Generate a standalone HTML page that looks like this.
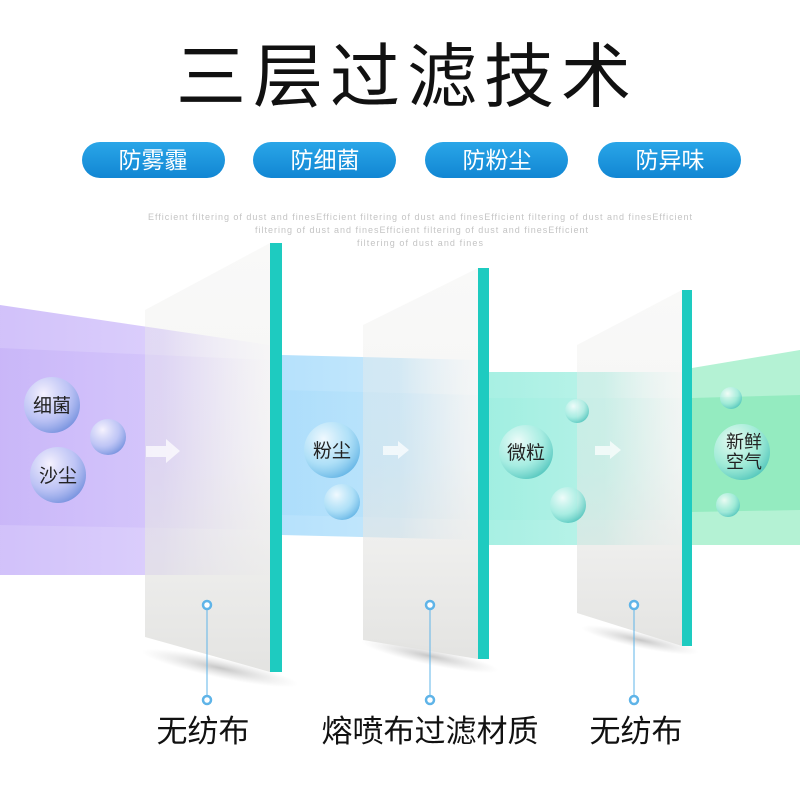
<!DOCTYPE html>
<html><head><meta charset="utf-8"><style>
html,body{margin:0;padding:0;background:#fff;}
svg{display:block}
text{font-family:"Liberation Sans","Noto Sans CJK SC",sans-serif;}
</style></head><body>
<svg width="800" height="800" viewBox="0 0 800 800" xmlns="http://www.w3.org/2000/svg">
<defs>
<linearGradient id="pill" x1="0" y1="0" x2="0" y2="1"><stop offset="0" stop-color="#2aa6e8"/><stop offset="1" stop-color="#1186d3"/></linearGradient>
<linearGradient id="pur" x1="0" x2="1"><stop offset="0" stop-color="#c6b2f8"/><stop offset="0.6" stop-color="#d2c2fb"/><stop offset="1" stop-color="#f4f0fd" stop-opacity="0.2"/></linearGradient>
<linearGradient id="blu" x1="0" x2="1"><stop offset="0" stop-color="#a9dcfb"/><stop offset="0.6" stop-color="#b9e3fb"/><stop offset="1" stop-color="#e6f4fd" stop-opacity="0.2"/></linearGradient>
<linearGradient id="tea" x1="0" x2="1"><stop offset="0" stop-color="#9eeee0"/><stop offset="0.6" stop-color="#b2f1e6"/><stop offset="1" stop-color="#e4f9f5" stop-opacity="0.2"/></linearGradient>
<radialGradient id="bub" cx="0.35" cy="0.3" r="0.75"><stop offset="0" stop-color="#ffffff" stop-opacity="0.8"/><stop offset="0.6" stop-color="#b8c8f4" stop-opacity="0.7"/><stop offset="1" stop-color="#6f8fdc" stop-opacity="0.9"/></radialGradient>
<radialGradient id="bubb" cx="0.35" cy="0.3" r="0.75"><stop offset="0" stop-color="#ffffff" stop-opacity="0.8"/><stop offset="0.6" stop-color="#aee0f6" stop-opacity="0.7"/><stop offset="1" stop-color="#5fb2e4" stop-opacity="0.9"/></radialGradient>
<radialGradient id="bubt" cx="0.35" cy="0.3" r="0.75"><stop offset="0" stop-color="#ffffff" stop-opacity="0.8"/><stop offset="0.6" stop-color="#a8ece2" stop-opacity="0.7"/><stop offset="1" stop-color="#4fc4bc" stop-opacity="0.9"/></radialGradient>
<linearGradient id="panel" x1="0" y1="0" x2="0" y2="1"><stop offset="0" stop-color="#eeeeec" stop-opacity="0.35"/><stop offset="0.5" stop-color="#e8e8e6" stop-opacity="0.45"/><stop offset="1" stop-color="#e2e2e0" stop-opacity="0.95"/></linearGradient>
<radialGradient id="sh" cx="0.5" cy="0.5" r="0.5"><stop offset="0" stop-color="#999" stop-opacity="0.55"/><stop offset="1" stop-color="#bbb" stop-opacity="0"/></radialGradient>
</defs>

<text x="407" y="101" font-size="70" text-anchor="middle" fill="#111" letter-spacing="7">三层过滤技术</text>

<g font-size="23" fill="#fff" text-anchor="middle">
<rect x="82" y="142" width="143" height="36" rx="18" fill="url(#pill)"/><text x="153" y="168">防雾霾</text>
<rect x="253" y="142" width="143" height="36" rx="18" fill="url(#pill)"/><text x="325" y="168">防细菌</text>
<rect x="425" y="142" width="143" height="36" rx="18" fill="url(#pill)"/><text x="497" y="168">防粉尘</text>
<rect x="598" y="142" width="143" height="36" rx="18" fill="url(#pill)"/><text x="670" y="168">防异味</text>
</g>
<g font-size="9" fill="#c4c4c4">
<text x="148" y="220" textLength="544" lengthAdjust="spacing">Efficient filtering of dust and finesEfficient filtering of dust and finesEfficient filtering of dust and finesEfficient</text>
<text x="255" y="233" textLength="333" lengthAdjust="spacing">filtering of dust and finesEfficient filtering of dust and finesEfficient</text>
<text x="357" y="246" textLength="126" lengthAdjust="spacing">filtering of dust and fines</text>
</g>

<ellipse cx="220" cy="668" rx="80" ry="10" fill="url(#sh)" transform="rotate(12 220 668)"/>
<ellipse cx="430" cy="656" rx="70" ry="9" fill="url(#sh)" transform="rotate(12 430 656)"/>
<ellipse cx="640" cy="640" rx="60" ry="8" fill="url(#sh)" transform="rotate(12 640 640)"/>

<polygon points="0,305 270,345 270,575 0,575" fill="url(#pur)" opacity="0.8"/>
<polygon points="0,348 270,360 270,530 0,525" fill="url(#pur)" opacity="0.7"/>
<polygon points="282,355 478,360 478,540 282,535" fill="url(#blu)" opacity="0.85"/>
<polygon points="282,390 478,395 478,520 282,515" fill="url(#blu)" opacity="0.7"/>
<polygon points="489,372 682,372 682,545 489,545" fill="url(#tea)" opacity="0.9"/>
<polygon points="489,398 682,398 682,520 489,520" fill="url(#tea)" opacity="0.7"/>
<polygon points="692,368 800,350 800,545 692,545" fill="#b4f2d4"/>
<polygon points="692,398 800,395 800,510 692,512" fill="#94ebc0"/>

<polygon points="145,310 270,243 270,672 145,637" fill="url(#panel)"/>
<rect x="270" y="243" width="12" height="429" fill="#1ecbc0"/>
<polygon points="363,325 478,268 478,659 363,640" fill="url(#panel)"/>
<rect x="478" y="268" width="11" height="391" fill="#1ecbc0"/>
<polygon points="577,345 682,290 682,646 577,613" fill="url(#panel)"/>
<rect x="682" y="290" width="10" height="356" fill="#1ecbc0"/>

<g fill="#fff" opacity="0.7">
<polygon points="146,446 166,446 166,439 180,451 166,463 166,457 146,457"/>
<polygon points="383,446 398,446 398,441 409,450 398,459 398,455 383,455"/>
<polygon points="595,446 610,446 610,441 621,450 610,459 610,455 595,455"/>
</g>

<circle cx="52" cy="405" r="28" fill="url(#bub)"/>
<circle cx="108" cy="437" r="18" fill="url(#bub)"/>
<circle cx="58" cy="475" r="28" fill="url(#bub)"/>
<circle cx="332" cy="450" r="28" fill="url(#bubb)"/>
<circle cx="342" cy="502" r="18" fill="url(#bubb)"/>
<circle cx="526" cy="452" r="27" fill="url(#bubt)"/>
<circle cx="577" cy="411" r="12" fill="url(#bubt)"/>
<circle cx="568" cy="505" r="18" fill="url(#bubt)"/>
<circle cx="742" cy="452" r="28" fill="url(#bubt)"/>
<circle cx="731" cy="398" r="11" fill="url(#bubt)"/>
<circle cx="728" cy="505" r="12" fill="url(#bubt)"/>
<g font-size="19" fill="#222" text-anchor="middle">
<text x="52" y="412">细菌</text>
<text x="58" y="482">沙尘</text>
<text x="332" y="457">粉尘</text>
<text x="526" y="459">微粒</text>
<text x="744" y="448" font-size="18">新鲜</text>
<text x="744" y="468" font-size="18">空气</text>
</g>

<g stroke="#5fb4e8" fill="#fff" stroke-width="2.5">
<line x1="207" y1="609" x2="207" y2="696" stroke-width="1"/>
<line x1="430" y1="609" x2="430" y2="696" stroke-width="1"/>
<line x1="634" y1="609" x2="634" y2="696" stroke-width="1"/>
<circle cx="207" cy="605" r="4"/><circle cx="207" cy="700" r="4"/>
<circle cx="430" cy="605" r="4"/><circle cx="430" cy="700" r="4"/>
<circle cx="634" cy="605" r="4"/><circle cx="634" cy="700" r="4"/>
</g>
<g font-size="31" fill="#111" text-anchor="middle">
<text x="203" y="742">无纺布</text>
<text x="430" y="742">熔喷布过滤材质</text>
<text x="636" y="742">无纺布</text>
</g>
</svg>
</body></html>
